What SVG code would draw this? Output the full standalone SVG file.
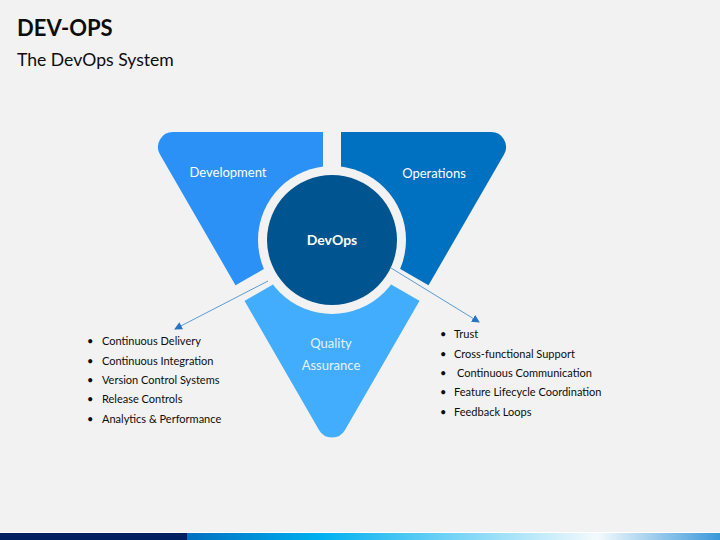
<svg xmlns="http://www.w3.org/2000/svg" width="720" height="540" viewBox="0 0 720 540">
  <defs>
    <style>
      .title { font-family: Lato, "Liberation Sans", sans-serif; font-weight: 700; font-size: 22px; fill: #0d0d0d; }
      .subtitle { font-family: Lato, "Liberation Sans", sans-serif; font-size: 17.6px; fill: #0d0d0d; }
      .seglabel { font-family: Lato, "Liberation Sans", sans-serif; font-size: 13px; fill: #ffffff; text-anchor: middle; }
      .qalabel { font-family: Lato, "Liberation Sans", sans-serif; font-size: 13px; fill: #e6f3ff; text-anchor: middle; }
      .core { font-family: Lato, "Liberation Sans", sans-serif; font-weight: 700; font-size: 14px; fill: #ffffff; text-anchor: middle; }
      .item { font-family: Lato, "Liberation Sans", sans-serif; font-size: 11px; fill: #0d0d0d; }
      .conn { stroke: #5b9bd5; stroke-width: 1; fill: none; }
    </style>
    <path id="tri" d="M173,132 L491,132 A15,15 0 0 1 504,154.5 L345,429.9 A15,15 0 0 1 319,429.9 L160,154.5 A15,15 0 0 1 173,132 Z"/>
    <clipPath id="clipDev"><polygon points="332,240 332,0 0,0 0,431.7"/></clipPath>
    <clipPath id="clipOps"><polygon points="332,240 332,0 720,0 720,463.9"/></clipPath>
    <clipPath id="clipQa"><polygon points="332,240 0,431.7 0,540 720,540 720,463.9"/></clipPath>
    <mask id="gaps" maskUnits="userSpaceOnUse" x="0" y="0" width="720" height="540">
      <rect x="0" y="0" width="720" height="540" fill="#fff"/>
      <circle cx="332" cy="240" r="74" fill="#000"/>
      <g stroke="#000" stroke-width="18">
        <line x1="332" y1="240" x2="332" y2="0"/>
        <line x1="332" y1="240" x2="0" y2="431.7"/>
        <line x1="332" y1="240" x2="720" y2="463.9"/>
      </g>
    </mask>
    <marker id="arrow" markerUnits="userSpaceOnUse" markerWidth="8" markerHeight="8" refX="7" refY="4" orient="auto">
      <path d="M0,0 L8,4 L0,8 Z" fill="#2a72c4"/>
    </marker>
    <linearGradient id="barGrad" x1="187" y1="0" x2="720" y2="0" gradientUnits="userSpaceOnUse">
      <stop offset="0" stop-color="#0070c0"/>
      <stop offset="0.25" stop-color="#00b0f0"/>
      <stop offset="0.77" stop-color="#f4fafd"/>
      <stop offset="1" stop-color="#3a98da"/>
    </linearGradient>
  </defs>

  <rect x="0" y="0" width="720" height="540" fill="#f2f2f2"/>

  <text class="title" x="17" y="36">DEV-OPS</text>
  <text class="subtitle" x="17" y="66">The DevOps System</text>

  <g id="development">
    <use href="#tri" fill="#2b91f6" clip-path="url(#clipDev)" mask="url(#gaps)"/>
    <text class="seglabel" x="228" y="177">Development</text>
  </g>

  <g id="operations">
    <use href="#tri" fill="#0070c0" clip-path="url(#clipOps)" mask="url(#gaps)"/>
    <text class="seglabel" x="434" y="178">Operations</text>
  </g>

  <g id="quality-assurance">
    <use href="#tri" fill="#41adfc" clip-path="url(#clipQa)" mask="url(#gaps)"/>
    <text class="qalabel" x="331" y="348">Quality</text>
    <text class="qalabel" x="331" y="370">Assurance</text>
  </g>

  <g id="devops">
    <circle cx="332" cy="240" r="65" fill="#00548f"/>
    <text class="core" x="332" y="245">DevOps</text>
  </g>

  <g id="connectors">
    <line class="conn" x1="268" y1="281" x2="175" y2="329" marker-end="url(#arrow)"/>
    <line class="conn" x1="391" y1="268" x2="479" y2="322" marker-end="url(#arrow)"/>
  </g>

  <g id="dev-list">
    <text class="item" x="87" y="345">•</text><text class="item" x="102" y="345">Continuous Delivery</text>
    <text class="item" x="87" y="364.5">•</text><text class="item" x="102" y="364.5">Continuous Integration</text>
    <text class="item" x="87" y="384">•</text><text class="item" x="102" y="384">Version Control Systems</text>
    <text class="item" x="87" y="403">•</text><text class="item" x="102" y="403">Release Controls</text>
    <text class="item" x="87" y="422.5">•</text><text class="item" x="102" y="422.5">Analytics &amp; Performance</text>
  </g>

  <g id="ops-list">
    <text class="item" x="440" y="338">•</text><text class="item" x="454" y="338">Trust</text>
    <text class="item" x="440" y="357.5">•</text><text class="item" x="454" y="357.5">Cross-functional Support</text>
    <text class="item" x="440" y="377">•</text><text class="item" x="457" y="377">Continuous Communication</text>
    <text class="item" x="440" y="396">•</text><text class="item" x="454" y="396">Feature Lifecycle Coordination</text>
    <text class="item" x="440" y="415.5">•</text><text class="item" x="454" y="415.5">Feedback Loops</text>
  </g>

  <rect x="0" y="532" width="720" height="1" fill="#ffffff"/>
  <rect x="0" y="533" width="187" height="7" fill="#002060"/>
  <rect x="187" y="533" width="533" height="7" fill="url(#barGrad)"/>
</svg>
